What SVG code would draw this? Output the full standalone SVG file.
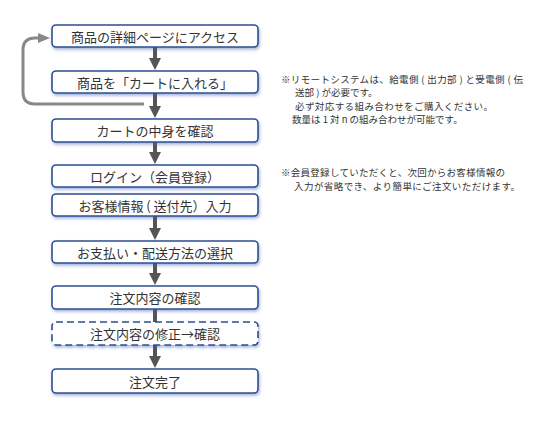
<svg xmlns="http://www.w3.org/2000/svg" width="550" height="421" viewBox="0 0 550 421">
<style>
  .box{fill:#fff;stroke:#2c4f94;stroke-width:1.6;filter:url(#sh)}
  .dash{stroke-dasharray:7 4}
  .lbl{font-family:"Noto Sans CJK JP","Noto Sans",sans-serif;font-size:13px;fill:#333;text-anchor:middle;dominant-baseline:central}
  .note{font-family:"Noto Sans CJK JP","Noto Sans",sans-serif;font-size:9.5px;fill:#333}
  .arr{stroke:#555;stroke-width:4;fill:none}
  .loop{stroke:#888;stroke-width:3;fill:none}
</style>
<defs>
  <filter id="sh" x="-10%" y="-30%" width="120%" height="170%">
    <feDropShadow dx="1" dy="2" stdDeviation="1.5" flood-color="#3a5cb0" flood-opacity="0.45"/>
  </filter>
  <marker id="ah" viewBox="0 0 12 12" refX="0" refY="6" markerWidth="12" markerHeight="12" markerUnits="userSpaceOnUse" orient="auto">
    <path d="M0,0 L12,6 L0,12 z" fill="#555"/>
  </marker>
  <marker id="ahg" viewBox="0 0 12 10" refX="0" refY="5" markerWidth="12" markerHeight="10" markerUnits="userSpaceOnUse" orient="auto">
    <path d="M0,0 L12,5 L0,10 z" fill="#888"/>
  </marker>
</defs>
<g id="connectors">
  <line class="arr" x1="155" y1="47" x2="155" y2="58" marker-end="url(#ah)"/>
  <line class="arr" x1="155" y1="93" x2="155" y2="106" marker-end="url(#ah)"/>
  <line class="arr" x1="155" y1="142" x2="155" y2="152" marker-end="url(#ah)"/>
  <line class="arr" x1="155" y1="216" x2="155" y2="228" marker-end="url(#ah)"/>
  <line class="arr" x1="155" y1="263" x2="155" y2="273" marker-end="url(#ah)"/>
  <line class="arr" x1="155" y1="309" x2="155" y2="322"/>
  <line class="arr" x1="155" y1="345" x2="155" y2="356" marker-end="url(#ah)"/>
  <path class="loop" d="M144,104 H35 Q23,104 23,92 V50 Q23,38 35,38 H38" marker-end="url(#ahg)"/>
</g>
<g id="n1"><rect class="box" x="52" y="25" width="206" height="22" rx="4"/><text class="lbl" x="155" y="36">商品の詳細ページにアクセス</text></g>
<g id="n2"><rect class="box" x="52" y="71" width="206" height="22" rx="4"/><text class="lbl" x="155" y="82">商品を「カートに入れる」</text></g>
<g id="n3"><rect class="box" x="52" y="119" width="206" height="23" rx="4"/><text class="lbl" x="155" y="130.5">カートの中身を確認</text></g>
<g id="n4"><rect class="box" x="52" y="165" width="206" height="22" rx="4"/><text class="lbl" x="155" y="176">ログイン（会員登録）</text></g>
<g id="n5"><rect class="box" x="52" y="194" width="206" height="22" rx="4"/><text class="lbl" x="155" y="205">お客様情報 ( 送付先）入力</text></g>
<g id="n6"><rect class="box" x="52" y="241" width="206" height="22" rx="4"/><text class="lbl" x="155" y="252">お支払い・配送方法の選択</text></g>
<g id="n7"><rect class="box" x="52" y="286" width="206" height="23" rx="4"/><text class="lbl" x="155" y="297.5">注文内容の確認</text></g>
<g id="n8"><rect class="box dash" x="52" y="322" width="206" height="23" rx="4"/><text class="lbl" x="155" y="333.5">注文内容の修正→確認</text></g>
<g id="n9"><rect class="box" x="52" y="369" width="206" height="24" rx="4"/><text class="lbl" x="155" y="381">注文完了</text></g>
<g id="notes">
  <text class="note"><tspan x="281" y="82.5" textLength="242" lengthAdjust="spacing">※リモートシステムは、給電側 ( 出力部 ) と受電側 ( 伝</tspan><tspan x="295" y="96">送部 ) が必要です。</tspan><tspan x="295" y="109.5" textLength="198" lengthAdjust="spacing">必ず対応する組み合わせをご購入ください。</tspan><tspan x="292" y="123">数量は 1 対 n の組み合わせが可能です。</tspan></text>
  <text class="note"><tspan x="281" y="176" textLength="224" lengthAdjust="spacing">※会員登録していただくと、次回からお客様情報の</tspan><tspan x="294" y="189.5" textLength="226" lengthAdjust="spacing">入力が省略でき、より簡単にご注文いただけます。</tspan></text>
</g>
</svg>
